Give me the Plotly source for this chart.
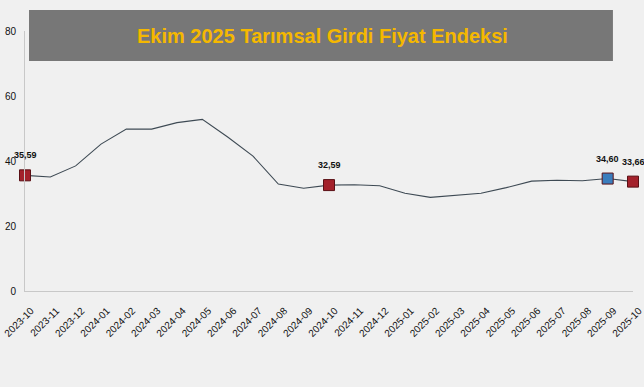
import plotly.graph_objects as go

months = ["2023-10", "2023-11", "2023-12", "2024-01", "2024-02", "2024-03", "2024-04",
          "2024-05", "2024-06", "2024-07", "2024-08", "2024-09", "2024-10", "2024-11",
          "2024-12", "2025-01", "2025-02", "2025-03", "2025-04", "2025-05", "2025-06",
          "2025-07", "2025-08", "2025-09", "2025-10"]
index_values = [35.59, 35.1, 38.5, 45.2, 49.8, 49.8, 51.8, 52.8, 47.4, 41.5, 32.9, 31.6,
                32.59, 32.7, 32.4, 30.1, 28.8, 29.4, 30.1, 31.8, 33.8, 34.1, 33.9, 34.60, 33.66]
highlight_months = ["2023-10", "2024-10", "2025-09", "2025-10"]
highlight_colors = ["#a3212b", "#a3212b", "#3b7dbd", "#a3212b"]
y_ticks = [0, 20, 40, 60, 80]
title_text = "Ekim 2025 Tarımsal Girdi Fiyat Endeksi"

hl_values = [index_values[months.index(m)] for m in highlight_months]
hl_labels = [f"<b>{v:.2f}</b>".replace(".", ",") for v in hl_values]

fig = go.Figure()
fig.add_trace(go.Scatter(
    x=months, y=index_values, mode="lines",
    line=dict(color="#3e4a54", width=1.1),
    hoverinfo="skip", showlegend=False,
))
fig.add_trace(go.Scatter(
    x=highlight_months, y=hl_values, mode="markers",
    marker=dict(symbol="square", size=11, color=highlight_colors,
                line=dict(color="#5a1015", width=1)),
    cliponaxis=False, hoverinfo="skip", showlegend=False,
))

label_annotations = [
    dict(x=m, y=v, text=t, showarrow=False, yshift=20, xanchor="center", yanchor="middle",
         font=dict(family="Liberation Sans Narrow, Liberation Sans, Arial", size=9, color="#111111"))
    for m, v, t in zip(highlight_months, hl_values, hl_labels)
]

BG = "#f0f0f0"
fig.update_layout(
    width=644, height=387,
    margin=dict(l=25, r=11, t=31, b=96, autoexpand=False),
    paper_bgcolor=BG, plot_bgcolor=BG,
    font=dict(family="Liberation Sans, Arial", size=10, color="#111111"),
    xaxis=dict(
        type="category", range=[0, len(months) - 1], automargin=False,
        tickangle=-45, showgrid=False, zeroline=False,
        showline=True, linecolor="#c8c8c8", linewidth=1,
        ticks="", tickfont=dict(size=10, color="#111111"),
        ticklabelstandoff=9, ticklabelshift=6,
    ),
    yaxis=dict(
        range=[0, 80], tickvals=y_ticks, showgrid=False, zeroline=False, automargin=False,
        showline=True, linecolor="#c8c8c8", linewidth=1,
        ticks="", tickfont=dict(size=10, color="#111111"), ticklabelstandoff=6,
    ),
    shapes=[dict(type="rect", xref="paper", yref="paper",
                 x0=0.0066, x1=0.967, y0=0.885, y1=1.081,
                 fillcolor="#777777", line=dict(width=0), layer="above")],
    annotations=[dict(text=f"<b>{title_text}</b>", xref="paper", yref="paper",
                      x=0.489, y=0.98, xanchor="center", yanchor="middle",
                      showarrow=False,
                      font=dict(family="Liberation Sans, Arial", size=20, color="#f5b800"))]
                + label_annotations,
)

fig.write_html(
    "out.html",
    config={"displayModeBar": False},
    post_script="document.body.style.margin='0';document.body.style.background='#f0f0f0';document.body.style.overflow='hidden';",
)
